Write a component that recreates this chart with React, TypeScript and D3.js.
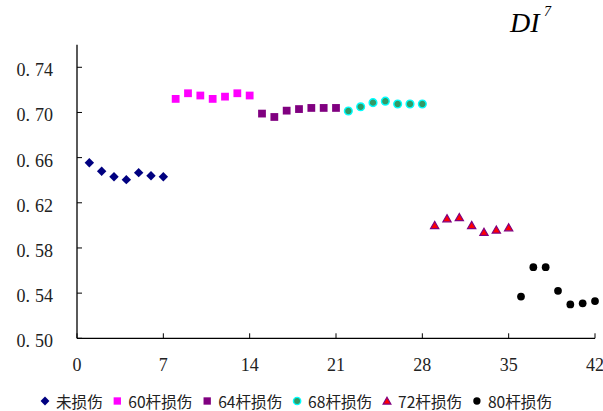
import React from "react";
import * as d3 from "d3";

// DI7 damage index for each sample group (samples numbered 1..42)
const groupNames = ["未损伤", "60杆损伤", "64杆损伤", "68杆损伤", "72杆损伤", "80杆损伤"];
const groupStart = [1, 8, 15, 22, 29, 36];

const undamaged = [0.6555, 0.648, 0.643, 0.6405, 0.6467, 0.644, 0.643];
const bar60 = [0.712, 0.717, 0.715, 0.712, 0.714, 0.717, 0.715];
const bar64 = [0.699, 0.696, 0.7016, 0.703, 0.704, 0.704, 0.704];
const bar68 = [0.7013, 0.705, 0.7087, 0.71, 0.7075, 0.7075, 0.7075];
const bar72 = [0.6, 0.606, 0.607, 0.6, 0.594, 0.596, 0.598];
const bar80 = [0.537, 0.563, 0.563, 0.542, 0.53, 0.531, 0.533];

const seriesValues = [undamaged, bar60, bar64, bar68, bar72, bar80];

const xTicks = [0, 7, 14, 21, 28, 35, 42];
const yTicks = [0.5, 0.54, 0.58, 0.62, 0.66, 0.7, 0.74];

type MarkerKind = "diamond" | "square" | "circle" | "triangle";
const markerKind: MarkerKind[] = ["diamond", "square", "square", "circle", "triangle", "circle"];
const markerFill = ["#000080", "#FF00FF", "#800080", "#339966", "#FF0000", "#000000"];
const markerStroke = ["#000080", "#FF00FF", "#800080", "#00FFFF", "#800080", "#000000"];

const W = 603;
const H = 411;
const left = 77;
const right = 595;
const bottom = 338.3;
const top = 44.7;

const x = d3.scaleLinear().domain([0, 42]).range([left, right]);
const y = d3.scaleLinear().domain([0.5, 0.76]).range([bottom, top]);

const symbolType: Record<MarkerKind, d3.SymbolType> = {
  diamond: d3.symbolDiamond2,
  square: d3.symbolSquare2,
  circle: d3.symbolCircle,
  triangle: d3.symbolTriangle2,
};

function Marker({ kind, fill, stroke, cx, cy, size }: { kind: MarkerKind; fill: string; stroke: string; cx: number; cy: number; size: number }) {
  const sizeArea: Record<MarkerKind, number> = {
    diamond: size * size * 0.7,
    square: size * size * 0.95,
    circle: size * size * 0.58,
    triangle: size * size * 0.6,
  };
  const path = d3.symbol(symbolType[kind], sizeArea[kind])() || "";
  const ty = kind === "triangle" ? 0.8 : 0;
  return (
    <path
      d={path}
      transform={`translate(${cx},${cy + ty})`}
      fill={fill}
      stroke={stroke}
      strokeWidth={kind === "circle" && stroke !== fill ? 1.4 : kind === "triangle" ? 1.2 : 0}
    />
  );
}

// legend layout: marker, gap, label, gap
const cjkW = 15.6;
const digitW = 8.8;
function labelWidth(s: string) {
  let w = 0;
  for (const ch of s) w += /[0-9]/.test(ch) ? digitW : cjkW;
  return w;
}
const legendPos: { mx: number; tx: number }[] = [];
{
  let mx = 45;
  for (const name of groupNames) {
    const tx = mx + 11;
    legendPos.push({ mx, tx });
    mx = tx + labelWidth(name) + 14.5;
  }
}

export default function App() {
  const serif = "Liberation Serif, Times New Roman, serif";
  return (
    <svg
      width={W}
      height={H}
      viewBox={`0 0 ${W} ${H}`}
      style={{ position: "absolute", left: 0, top: 0, background: "#fff" }}
    >
      <rect x={0} y={0} width={W} height={H} fill="#fff" />

      {/* title */}
      <text x={510} y={31.7} fontFamily={serif} fontStyle="italic" fontSize={28} fill="#000">
        DI
      </text>
      <text x={544} y={16} fontFamily={serif} fontStyle="italic" fontSize={14} fill="#000">
        7
      </text>

      {/* axes */}
      <line x1={left} x2={left} y1={top} y2={bottom} stroke="#000" strokeWidth={1.3} />
      <line x1={left} x2={right} y1={bottom} y2={bottom} stroke="#000" strokeWidth={1.3} />

      {yTicks.map((t) => (
        <g key={`y${t}`}>
          <line x1={left} x2={left + 5} y1={y(t)} y2={y(t)} stroke="#000" strokeWidth={1} />
          <text x={53} y={y(t) + 9} textAnchor="end" fontFamily={serif} fontSize={18} fill="#222">
            <tspan>{t.toFixed(2).slice(0, 2)}</tspan>
            <tspan dx={5}>{t.toFixed(2).slice(2)}</tspan>
          </text>
        </g>
      ))}

      {xTicks.map((t) => (
        <g key={`x${t}`}>
          <line x1={x(t)} x2={x(t)} y1={bottom} y2={bottom - 5} stroke="#000" strokeWidth={1} />
          <text x={x(t)} y={371} textAnchor="middle" fontFamily={serif} fontSize={18} fill="#222">
            {t}
          </text>
        </g>
      ))}

      {/* data points */}
      {seriesValues.map((vals, si) => (
        <g key={`s${si}`}>
          {vals.map((v, i) => (
            <Marker
              key={i}
              kind={markerKind[si]}
              fill={markerFill[si]}
              stroke={markerStroke[si]}
              cx={x(groupStart[si] + i)}
              cy={y(v)}
              size={9}
            />
          ))}
        </g>
      ))}

      {/* legend */}
      {groupNames.map((name, si) => (
        <g key={`l${si}`}>
          <Marker
            kind={markerKind[si]}
            fill={markerFill[si]}
            stroke={markerStroke[si]}
            cx={legendPos[si].mx}
            cy={401}
            size={8.5}
          />
          <text
            x={legendPos[si].tx}
            y={401}
            dominantBaseline="central"
            fontFamily="'Noto Sans CJK SC', sans-serif"
            fontSize={15.6}
            fill="#222"
          >
            {name}
          </text>
        </g>
      ))}
    </svg>
  );
}
